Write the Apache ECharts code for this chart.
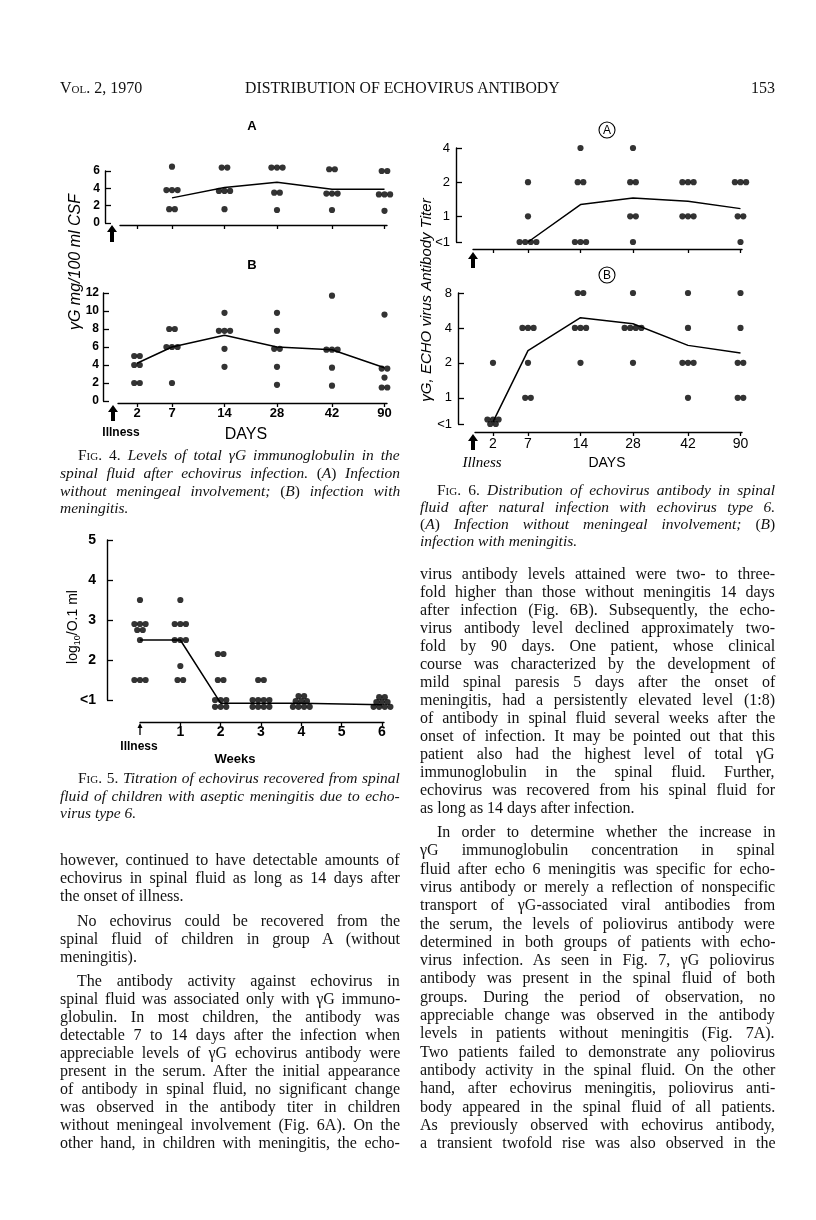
<!DOCTYPE html>
<html><head><meta charset="utf-8">
<script src="https://cdn.jsdelivr.net/npm/echarts@6/dist/echarts.min.js"></script>
<style>
html,body{margin:0;padding:0;background:#fff;}
#page{position:relative;width:816px;height:1220px;overflow:hidden;background:#fff;}
#chart{position:absolute;left:0;top:0;width:816px;height:1220px;}
.ln{position:absolute;font-family:'Liberation Serif','Times New Roman',serif;font-size:16px;line-height:18px;white-space:nowrap;color:#111;}
.cap{font-size:15.5px;}
.sc{font-variant:small-caps;font-style:normal;}
</style></head>
<body><div id="page"><div id="chart"></div></div>
<script>
// ---------------- DATA ----------------
const dayLabels = ['2', '7', '14', '28', '42', '90'];
const daySlots = [1.0, 2.4, 4.5, 6.6, 8.8, 10.9];   // printed (uneven) day scale
// Fig. 4A  total gammaG, mg/100 ml CSF (per day column)
const fig4aValues = [
  [],
  [6.5, 3.8, 3.8, 3.8, 1.6, 1.6],
  [6.4, 6.4, 3.7, 3.7, 3.7, 1.6],
  [6.4, 6.4, 6.4, 3.5, 3.5, 1.5],
  [6.2, 6.2, 3.4, 3.4, 3.4, 1.5],
  [6.0, 6.0, 3.3, 3.3, 3.3, 1.4]
];
const fig4aMean = [null, 2.9, 4.1, 4.7, 3.9, 3.9];
// Fig. 4B
const fig4bValues = [
  [5, 5, 4, 4, 2, 2],
  [8, 8, 6, 6, 6, 2],
  [9.8, 7.8, 7.8, 7.8, 5.8, 3.8],
  [9.8, 7.8, 5.8, 5.8, 3.8, 1.8],
  [11.7, 5.7, 5.7, 5.7, 3.7, 1.7],
  [9.6, 3.6, 3.6, 2.6, 1.5, 1.5]
];
const fig4bMean = [4.2, 6.0, 7.3, 6.0, 5.7, 3.7];
// Fig. 5  virus titre log10/0.1 ml by week (1 = "<1")
const weekLabels = ['1', '2', '3', '4', '5', '6'];
const weekTicks = [1, 2, 3, 4, 5, 6];
const fig5Weeks = [0, 1, 2, 3, 4, 6];
const fig5Values = [
  [3.5, 2.9, 2.9, 2.9, 2.75, 2.75, 2.5, 1.5, 1.5, 1.5],
  [3.5, 2.9, 2.9, 2.9, 2.5, 2.5, 2.5, 1.85, 1.5, 1.5],
  [2.15, 2.15, 1.5, 1.5, 1.0, 1.0, 1.0, 0.83, 0.83, 0.83],
  [1.5, 1.5, 1.0, 1.0, 1.0, 1.0, 0.83, 0.83, 0.83, 0.83],
  [1.1, 1.1, 0.97, 0.97, 0.97, 0.83, 0.83, 0.83, 0.83],
  [1.07, 1.07, 0.95, 0.95, 0.95, 0.83, 0.83, 0.83, 0.83]
];
const fig5Mean = [2.5, 2.5, 0.92, 0.92, 0.92, 0.88];
// Fig. 6  antibody titre (0 = "<1")
const fig6aTicks = [0, 1, 2, 4];
const fig6bTicks = [0, 1, 2, 4, 8];
const fig6aValues = [
  [],
  [2, 1, 0, 0, 0, 0],
  [4, 2, 2, 0, 0, 0],
  [4, 2, 2, 1, 1, 0],
  [2, 2, 2, 1, 1, 1],
  [2, 2, 2, 1, 1, 0]
];
const fig6aMean = [null, 0, 1.27, 1.45, 1.36, 1.17];
const fig6bValues = [
  [2, 0.65, 0.65, 0.65, 0, 0],
  [4, 4, 4, 2, 1, 1],
  [8, 8, 4, 4, 4, 2],
  [8, 4, 4, 4, 4, 2],
  [8, 4, 2, 2, 2, 1],
  [8, 4, 2, 2, 1, 1]
];
const fig6bMean = [0.62, 2.55, 4.9, 4.35, 2.83, 2.43];

// ---------------- TEXT ----------------
const leftBody = [
  ['however, continued to have detectable amounts of', 860, 0, 1],
  ['echovirus in spinal fluid as long as 14 days after', 878, 0, 1],
  ['the onset of illness.', 896, 0, 0],
  ['No echovirus could be recovered from the', 921, 17, 1],
  ['spinal fluid of children in group A (without', 939, 0, 1],
  ['meningitis).', 957, 0, 0],
  ['The antibody activity against echovirus in', 981, 17, 1],
  ['spinal fluid was associated only with γG immuno-', 999, 0, 1],
  ['globulin. In most children, the antibody was', 1017, 0, 1],
  ['detectable 7 to 14 days after the infection when', 1035, 0, 1],
  ['appreciable levels of γG echovirus antibody were', 1053, 0, 1],
  ['present in the serum. After the initial appearance', 1071, 0, 1],
  ['of antibody in spinal fluid, no significant change', 1089, 0, 1],
  ['was observed in the antibody titer in children', 1107, 0, 1],
  ['without meningeal involvement (Fig. 6A). On the', 1125, 0, 1],
  ['other hand, in children with meningitis, the echo-', 1143, 0, 1]
];
const rightBody1 = [
  'virus antibody levels attained were two- to three-',
  'fold higher than those without meningitis 14 days',
  'after infection (Fig. 6B). Subsequently, the echo-',
  'virus antibody level declined approximately two-',
  'fold by 90 days. One patient, whose clinical',
  'course was characterized by the development of',
  'mild spinal paresis 5 days after the onset of',
  'meningitis, had a persistently elevated level (1:8)',
  'of antibody in spinal fluid several weeks after the',
  'onset of infection. It may be pointed out that this',
  'patient also had the highest level of total γG',
  'immunoglobulin in the spinal fluid. Further,',
  'echovirus was recovered from his spinal fluid for',
  'as long as 14 days after infection.'
];
const rightBody2 = [
  'In order to determine whether the increase in',
  'γG immunoglobulin concentration in spinal',
  'fluid after echo 6 meningitis was specific for echo-',
  'virus antibody or merely a reflection of nonspecific',
  'transport of γG-associated viral antibodies from',
  'the serum, the levels of poliovirus antibody were',
  'determined in both groups of patients with echo-',
  'virus infection. As seen in Fig. 7, γG poliovirus',
  'antibody was present in the spinal fluid of both',
  'groups. During the period of observation, no',
  'appreciable change was observed in the antibody',
  'levels in patients without meningitis (Fig. 7A).',
  'Two patients failed to demonstrate any poliovirus',
  'antibody activity in the spinal fluid. On the other',
  'hand, after echovirus meningitis, poliovirus anti-',
  'body appeared in the spinal fluid of all patients.',
  'As previously observed with echovirus antibody,',
  'a transient twofold rise was also observed in the'
];
const cap4 = [
  ['<span class="sc">Fig.</span> 4. <i>Levels of total γG immunoglobulin in the</i>', 455, 18, 1],
  ['<i>spinal fluid after echovirus infection.</i> (<i>A</i>) <i>Infection</i>', 473, 0, 1],
  ['<i>without meningeal involvement;</i> (<i>B</i>) <i>infection with</i>', 491, 0, 1],
  ['<i>meningitis.</i>', 508, 0, 0]
];
const cap5 = [
  ['<span class="sc">Fig.</span> 5. <i>Titration of echovirus recovered from spinal</i>', 778, 18, 1],
  ['<i>fluid of children with aseptic meningitis due to echo-</i>', 796, 0, 1],
  ['<i>virus type 6.</i>', 813, 0, 0]
];
const cap6 = [
  ['<span class="sc">Fig.</span> 6. <i>Distribution of echovirus antibody in spinal</i>', 490, 17, 1],
  ['<i>fluid after natural infection with echovirus type 6.</i>', 507, 0, 1],
  ['(<i>A</i>) <i>Infection without meningeal involvement;</i> (<i>B</i>)', 524, 0, 1],
  ['<i>infection with meningitis.</i>', 541, 0, 0]
];

// ---------------- HTML TEXT ----------------
const page = document.getElementById('page');
function placeLine(html, x, yc, w, justify, cls) {
  const d = document.createElement('div');
  d.className = 'ln ' + (cls || '');
  d.style.left = x + 'px';
  d.style.top = (yc - 9) + 'px';
  d.innerHTML = html;
  page.appendChild(d);
  const nat = d.offsetWidth;
  const spaces = (d.textContent.match(/ /g) || []).length;
  if (justify && nat < w && spaces > 0) {
    d.style.wordSpacing = ((w - nat) / spaces) + 'px';
  } else if (nat > w) {
    d.style.transformOrigin = '0 50%';
    d.style.transform = 'scaleX(' + (w / nat) + ')';
  }
  return d;
}
const LX = 60, LW = 340, RX = 420, RW = 355;
leftBody.forEach(([t, y, ind, j]) => placeLine(t, LX + ind, y, LW - ind, j));
rightBody1.forEach((t, i) => placeLine(t, RX, 574 + i * 18, RW, i < rightBody1.length - 1));
rightBody2.forEach((t, i) => placeLine(t, RX + (i === 0 ? 17 : 0), 832 + i * 18.3, RW - (i === 0 ? 17 : 0), 1));
cap4.forEach(([t, y, ind, j]) => placeLine(t, LX + ind, y, LW - ind, j, 'cap'));
cap5.forEach(([t, y, ind, j]) => placeLine(t, LX + ind, y, LW - ind, j, 'cap'));
cap6.forEach(([t, y, ind, j]) => placeLine(t, RX + ind, y, RW - ind, j, 'cap'));
// running head
placeLine('<span class="sc">Vol.</span> 2, 1970', 60, 88, 100, 0);
const head = placeLine('DISTRIBUTION OF ECHOVIRUS ANTIBODY', 245, 88, 315, 1);
placeLine('153', 751, 88, 30, 0);

// ---------------- CHART ----------------
const INK = '#000';
const LT1 = -0.75;                    // position of "<1" on the log2 titre axis
const tl = t => (t > 0 ? Math.log2(t) : LT1);
const DOT = 5.6;                      // dot spacing in px
const SLOT_PX = 25, WEEK_PX = 40.3;   // px per axis unit

function spread(cols, xs, step) {
  const pts = [];
  cols.forEach((vals, i) => {
    const g = new Map();
    vals.forEach(v => g.set(v, (g.get(v) || 0) + 1));
    g.forEach((n, v) => { for (let k = 0; k < n; k++) pts.push([xs[i] + (k - (n - 1) / 2) * step, v]); });
  });
  return pts;
}
function meanLine(means, xs, f) {
  const out = [];
  means.forEach((m, i) => { if (m !== null) out.push([xs[i], f ? f(m) : m]); });
  return out;
}
const slotLabel = v => { const i = daySlots.findIndex(s => Math.abs(s - v) < 1e-6); return i >= 0 ? dayLabels[i] : ''; };
const weekLabel = v => { const i = weekTicks.findIndex(s => Math.abs(s - v) < 1e-6); return i >= 0 ? weekLabels[i] : ''; };
const titerLabel = v => (Math.abs(v - LT1) < 1e-6 ? '<1' : String(Math.round(Math.pow(2, v))));

const lineStyle = { color: INK, width: 1.4 };
const tickIn = { show: true, inside: true, length: 6, lineStyle: { color: INK, width: 1.3 } };
const tickOut = { show: true, inside: false, length: 4, lineStyle: { color: INK, width: 1.3 } };
const sansB = { color: INK, fontFamily: 'Liberation Sans', fontWeight: 'bold' };
const sans = { color: INK, fontFamily: 'Liberation Sans' };

const grids = [
  { left: 120, top: 171, width: 267, height: 52 },
  { left: 118, top: 293, width: 269, height: 108 },
  { left: 140, top: 540, width: 244, height: 160 },
  { left: 473, top: 148, width: 269, height: 94 },
  { left: 475, top: 293, width: 267, height: 131 }
].map(g => Object.assign({ outerBoundsMode: 'none', containLabel: false }, g));

const xAxes = [
  { gridIndex: 0, min: 0.32, max: 11.0, offset: 2, axisTick: Object.assign({ customValues: daySlots }, tickOut), axisLabel: { show: false } },
  { gridIndex: 1, min: 0.24, max: 11.0, offset: 2, axisTick: Object.assign({ customValues: daySlots }, tickOut),
    axisLabel: Object.assign({ customValues: daySlots, formatter: slotLabel, fontSize: 13, margin: 4 }, sansB) },
  { gridIndex: 2, min: 0, max: 6.05, offset: 22, axisTick: Object.assign({ customValues: weekTicks }, tickOut),
    axisLabel: Object.assign({ customValues: weekTicks, formatter: weekLabel, fontSize: 14, margin: 3 }, sansB) },
  { gridIndex: 3, min: 0.2, max: 10.96, offset: 7, axisTick: Object.assign({ customValues: daySlots }, tickOut), axisLabel: { show: false } },
  { gridIndex: 4, min: 0.28, max: 10.96, offset: 8, axisTick: Object.assign({ customValues: daySlots }, tickOut),
    axisLabel: Object.assign({ customValues: daySlots, formatter: slotLabel, fontSize: 14, margin: 5 }, sans) }
].map(a => Object.assign({ type: 'value', position: 'bottom', axisLine: { show: true, onZero: false, lineStyle }, splitLine: { show: false } }, a));

const yAxes = [
  { gridIndex: 0, min: 0, max: 6, interval: 2, offset: 15, axisLabel: Object.assign({ fontSize: 12, margin: 5 }, sansB) },
  { gridIndex: 1, min: 0, max: 12, interval: 2, offset: 15, axisLabel: Object.assign({ fontSize: 12, margin: 4 }, sansB) },
  { gridIndex: 2, min: 1, max: 5, interval: 1, offset: 33, axisLabel: Object.assign({ fontSize: 14, margin: 11, formatter: v => (v === 1 ? '<1' : String(v)) }, sansB) },
  { gridIndex: 3, min: LT1, max: tl(4), offset: 17, axisTick: Object.assign({ customValues: fig6aTicks.map(tl) }, tickIn),
    axisLabel: Object.assign({ customValues: fig6aTicks.map(tl), formatter: titerLabel, fontSize: 13, margin: 6 }, sans) },
  { gridIndex: 4, min: LT1, max: tl(8), offset: 17, axisTick: Object.assign({ customValues: fig6bTicks.map(tl) }, tickIn),
    axisLabel: Object.assign({ customValues: fig6bTicks.map(tl), formatter: titerLabel, fontSize: 13, margin: 6 }, sans) }
].map(a => Object.assign({ type: 'value', position: 'left', axisLine: { show: true, onZero: false, lineStyle }, axisTick: tickIn, splitLine: { show: false } }, a));

function scatter(i, data) {
  return { type: 'scatter', xAxisIndex: i, yAxisIndex: i, data, symbol: 'circle', symbolSize: 6.2, clip: false, z: 5,
    itemStyle: { color: INK }, silent: true, animation: false };
}
function line(i, data) {
  return { type: 'line', xAxisIndex: i, yAxisIndex: i, data, symbol: 'none', clip: false, z: 3,
    lineStyle: { color: INK, width: 1.5 }, silent: true, animation: false };
}
const series = [
  scatter(0, spread(fig4aValues, daySlots, DOT / SLOT_PX)), line(0, meanLine(fig4aMean, daySlots)),
  scatter(1, spread(fig4bValues, daySlots, DOT / SLOT_PX)), line(1, meanLine(fig4bMean, daySlots)),
  scatter(2, spread(fig5Values, fig5Weeks, DOT / WEEK_PX)), line(2, meanLine(fig5Mean, fig5Weeks)),
  scatter(3, spread(fig6aValues.map(c => c.map(tl)), daySlots, DOT / SLOT_PX)), line(3, meanLine(fig6aMean, daySlots, tl)),
  scatter(4, spread(fig6bValues.map(c => c.map(tl)), daySlots, DOT / SLOT_PX)), line(4, meanLine(fig6bMean, daySlots, tl))
];

// decorations
function arrow(x, y, h, hw, sw, hh) {
  return { type: 'polygon', shape: { points: [[x, y], [x - hw / 2, y + hh], [x - sw / 2, y + hh], [x - sw / 2, y + h], [x + sw / 2, y + h], [x + sw / 2, y + hh], [x + hw / 2, y + hh]] },
    style: { fill: INK }, silent: true };
}
function txt(text, x, y, o) {
  return Object.assign({ type: 'text', x, y, silent: true,
    style: Object.assign({ text, fill: INK, fontFamily: 'Liberation Sans', fontSize: 13, align: 'center', verticalAlign: 'middle' }, o && o.style) },
    o && o.rotation ? { rotation: o.rotation } : {});
}
function circled(letter, x, y) {
  return [
    { type: 'circle', shape: { cx: x, cy: y, r: 8 }, style: { fill: 'none', stroke: INK, lineWidth: 1.1 }, silent: true },
    txt(letter, x, y + 0.5, { style: { fontSize: 12 } })
  ];
}
const graphic = [
  arrow(112, 225, 17, 10, 4, 7),
  arrow(113, 405, 16, 10, 4, 7),
  arrow(473, 252, 16, 10, 4, 7),
  arrow(473, 434, 16, 10, 4, 7),
  arrow(140, 723, 12, 5, 1.3, 5),
  txt('A', 252, 126, { style: { fontWeight: 'bold', fontSize: 13 } }),
  txt('B', 252, 265, { style: { fontWeight: 'bold', fontSize: 13 } }),
  ...circled('A', 607, 130),
  ...circled('B', 607, 275),
  txt('γG mg/100 ml CSF', 76, 262, { rotation: Math.PI / 2, style: { fontStyle: 'italic', fontSize: 16 } }),
  txt('Illness', 121, 433, { style: { fontWeight: 'bold', fontSize: 12 } }),
  txt('DAYS', 246, 435, { style: { fontSize: 16 } }),
  txt('{a|log}{s|10}{a|/O.1 ml}', 73, 627, { rotation: Math.PI / 2, style: { rich: { a: { fontSize: 14, fontFamily: 'Liberation Sans', fill: INK, lineHeight: 18 }, s: { fontSize: 9, fontFamily: 'Liberation Sans', fill: INK, lineHeight: 18, verticalAlign: 'bottom', padding: [7, 0, 0, 0] } } } }),
  txt('Illness', 139, 747, { style: { fontWeight: 'bold', fontSize: 12 } }),
  txt('Weeks', 235, 759, { style: { fontWeight: 'bold', fontSize: 13 } }),
  txt('γG, ECHO virus Antibody Titer', 427, 300, { rotation: Math.PI / 2, style: { fontStyle: 'italic', fontSize: 15 } }),
  txt('Illness', 482, 463, { style: { fontStyle: 'italic', fontFamily: 'Liberation Serif', fontSize: 15 } }),
  txt('DAYS', 607, 463, { style: { fontSize: 14 } })
];

const chart = echarts.init(document.getElementById('chart'), null, { renderer: 'canvas' });
chart.setOption({ animation: false, grid: grids, xAxis: xAxes, yAxis: yAxes, series, graphic });
</script>
</body></html>
